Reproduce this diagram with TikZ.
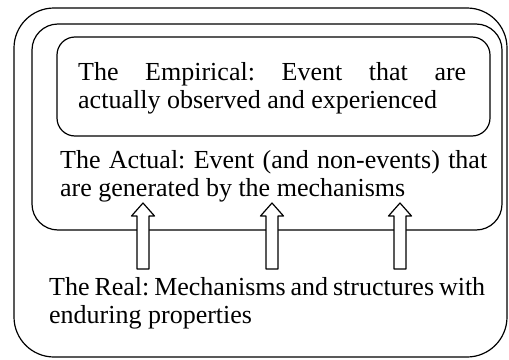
\documentclass[tikz,border=0pt]{standalone}
\usepackage{fontspec}
\setmainfont{Liberation Serif}
\usetikzlibrary{positioning}

\begin{document}
\begin{tikzpicture}[line cap=round,line join=round,x=1pt,y=-1pt,
  layer/.style={line width=1.2pt},
  txt/.style={anchor=north west,inner sep=0pt,align=justify,font=\fontsize{26}{28}\selectfont\frenchspacing}]
\useasboundingbox (0,0) rectangle (509,359);
% the three domains
\draw [layer,rounded corners=40pt] (14,8) rectangle (507,357);
\draw [layer,rounded corners=26pt] (32,24) rectangle (502,230);
\draw [layer,rounded corners=18pt] (57,37) rectangle (490,136);
\node [txt,text width=388pt] (empirical) at (78,62)
  {The Empirical: Event that are\linebreak actually observed and experienced};
\node [txt,text width=427pt] (actual) at (60,150)
  {The Actual: Event (and non-events) that\linebreak are generated by the mechanisms};
\node [txt,text width=436pt] (real) at (49,277)
  {The Real: Mechanisms and structures with\linebreak enduring properties};
% block arrows
\foreach \x in {143,272,400}
  \draw [layer,fill=white] (\x-6,269) -- (\x-6,216) -- (\x-11.5,216) -- (\x,203)
    -- (\x+11.5,216) -- (\x+6,216) -- (\x+6,269) -- cycle;
\end{tikzpicture}
\end{document}
